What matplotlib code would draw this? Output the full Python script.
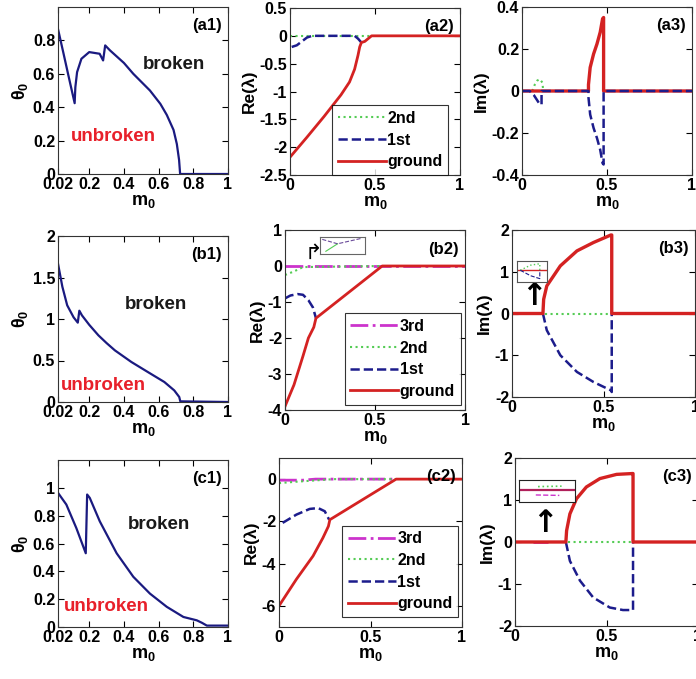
import matplotlib
matplotlib.use("Agg")
import matplotlib.pyplot as plt

plt.rcParams['font.family'] = ['Liberation Sans', 'DejaVu Sans']
plt.rcParams['font.weight'] = 'bold'
plt.rcParams['axes.labelweight'] = 'bold'
plt.rcParams['axes.unicode_minus'] = False
plt.rcParams['mathtext.fontset'] = 'custom'
plt.rcParams['mathtext.rm'] = 'Liberation Sans'
plt.rcParams['mathtext.it'] = 'Liberation Sans:italic'
plt.rcParams['mathtext.bf'] = 'Liberation Sans:bold'

RED = '#d42222'
NAVY = '#1c1c8c'
GREEN = '#55cc55'
MAG = '#cc33cc'
LINE1 = '#1a1a80'

# ---- column 1: theta_0 vs m_0 ----
a1_m = [0.02, 0.05, 0.08, 0.116, 0.12, 0.13, 0.155, 0.2, 0.26, 0.28, 0.292, 0.32, 0.4,
        0.454, 0.55, 0.61, 0.647, 0.686, 0.705, 0.718, 0.724, 1.0]
a1_t = [0.868, 0.73, 0.59, 0.424, 0.52, 0.61, 0.69, 0.73, 0.72, 0.68, 0.77, 0.74, 0.665,
        0.60, 0.50, 0.42, 0.354, 0.264, 0.18, 0.084, 0.0, 0.0]
b1_m = [0.02, 0.045, 0.073, 0.11, 0.134, 0.143, 0.158, 0.2, 0.253, 0.3, 0.348, 0.443,
        0.538, 0.633, 0.69, 0.719, 0.725, 1.0]
b1_t = [1.667, 1.39, 1.165, 1.02, 0.956, 1.10, 1.044, 0.93, 0.803, 0.71, 0.622, 0.482,
        0.361, 0.241, 0.14, 0.06, 0.008, 0.0]
c1_m = [0.02, 0.068, 0.126, 0.18, 0.188, 0.203, 0.261, 0.358, 0.454, 0.55, 0.647, 0.743,
        0.82, 0.85, 0.878, 1.0]
c1_t = [0.964, 0.88, 0.71, 0.53, 0.952, 0.928, 0.759, 0.53, 0.361, 0.24, 0.145, 0.072,
        0.048, 0.03, 0.01, 0.01]

# ---- column 2: Re(lambda) ----
a2_gm = [0, 0.1, 0.2, 0.3, 0.35, 0.38, 0.4, 0.41, 0.42, 0.44, 0.48, 1.0]
a2_g = [-2.18, -1.82, -1.45, -1.06, -0.83, -0.6, -0.35, -0.2, -0.12, -0.1, 0.0, 0.0]
a2_1m = [0.01, 0.04, 0.07, 0.1, 0.13, 0.38, 0.4, 0.42]
a2_1 = [-0.2, -0.17, -0.1, -0.03, 0.0, 0.0, -0.05, -0.12]
a2_2m = [0, 0.48]
a2_2 = [0, 0]

b2_gm = [0, 0.05, 0.1, 0.13, 0.16, 0.172, 0.54, 1.0]
b2_g = [-3.9, -3.3, -2.5, -2.0, -1.7, -1.45, 0.0, 0.0]
b2_1m = [0, 0.03, 0.07, 0.1, 0.13, 0.155, 0.172]
b2_1 = [-0.9, -0.82, -0.78, -0.8, -0.95, -1.15, -1.45]
b2_2m = [0, 0.05, 0.1, 0.54]
b2_2 = [-0.25, -0.15, -0.03, 0]
b2_3m = [0, 1.0]
b2_3 = [0, 0]

c2_gm = [0, 0.095, 0.186, 0.24, 0.27, 0.278, 0.64, 1.0]
c2_g = [-6.0, -4.74, -3.64, -2.78, -2.23, -1.92, 0, 0]
c2_1m = [0.02, 0.095, 0.168, 0.214, 0.25, 0.274]
c2_1 = [-2.07, -1.68, -1.41, -1.37, -1.52, -1.92]
c2_2m = [0, 0.1, 0.2, 0.3, 0.64]
c2_2 = [-0.19, -0.12, -0.06, 0, 0]
c2_3m = [0, 0.13, 0.2, 0.64]
c2_3 = [-0.05, -0.05, 0, 0]

# ---- column 3: Im(lambda) ----
a3_gm = [0, 0.391, 0.391, 0.401, 0.421, 0.441, 0.46, 0.474, 0.48, 0.48, 1.0]
a3_g = [0, 0, 0.03, 0.112, 0.176, 0.224, 0.28, 0.344, 0.35, 0, 0]
a3_1m = [0, 0.045, 0.07, 0.09, 0.105, 0.115, 0.115, 0.391, 0.391, 0.401, 0.421, 0.441,
         0.46, 0.474, 0.48, 0.48, 1.0]
a3_1 = [0, 0, -0.02, -0.045, -0.064, -0.064, 0, 0, -0.03, -0.112, -0.176, -0.224,
        -0.28, -0.344, -0.35, 0, 0]
a3_2m = [0.06, 0.075, 0.09, 0.105, 0.12, 0.125]
a3_2 = [0, 0.03, 0.05, 0.056, 0.04, 0]

b3_gm = [0, 0.169, 0.173, 0.19, 0.264, 0.355, 0.445, 0.54, 0.545, 0.545, 1.0]
b3_g = [0, 0, 0.34, 0.66, 1.14, 1.5, 1.7, 1.88, 1.88, 0, 0]
b3_1m = [0.169, 0.19, 0.264, 0.355, 0.445, 0.54, 0.545, 0.545]
b3_1 = [0, -0.4, -1.0, -1.4, -1.64, -1.84, -1.88, 0]
b3_2m = [0.18, 0.54]
b3_2 = [0, 0]

c3_gm = [0, 0.278, 0.282, 0.3, 0.336, 0.39, 0.464, 0.555, 0.642, 0.645, 0.645, 1.0]
c3_g = [0, 0, 0.27, 0.67, 1.03, 1.31, 1.51, 1.61, 1.63, 1.63, 0, 0]
c3_1m = [0.278, 0.3, 0.355, 0.427, 0.518, 0.59, 0.645, 0.645]
c3_1 = [0, -0.45, -0.92, -1.32, -1.56, -1.62, -1.62, 0]
c3_2m = [0.29, 0.64]
c3_2 = [0, 0]
c3_3m = [0.1, 0.18]
c3_3 = [0, 0]

# ---- small insets (normalised inset coordinates) ----
b2i_gx = [0.13, 0.39]
b2i_gy = [0.16, 0.6]
b2i_bx = [0.05, 0.39, 0.92]
b2i_by = [0.86, 0.6, 0.92]
b3i_gx = [0.11, 0.45, 0.76, 0.76]
b3i_gy = [0.56, 0.8, 0.87, 0.56]
b3i_bx = [0.11, 0.45, 0.76, 0.76]
b3i_by = [0.56, 0.3, 0.16, 0.56]
c3i_gx = [0.34, 0.76]
c3i_gy = [0.7, 0.72]
c3i_mx = [0.3, 0.72]
c3i_my = [0.32, 0.3]

W, H = 696, 679
fig = plt.figure(figsize=(W / 100, H / 100), dpi=100)


def box(x0, x1, y0, y1):
    return [x0 / W, 1 - y1 / H, (x1 - x0) / W, (y1 - y0) / H]


def style(ax, xticks, xlabels, yticks, ylim, ylabel, tag, xlim=(0, 1)):
    ax.set_xlim(*xlim)
    ax.set_ylim(*ylim)
    ax.set_xticks(xticks)
    ax.set_xticklabels(xlabels)
    ax.set_yticks(yticks)
    ax.set_yticklabels([f'{v:g}' for v in yticks])
    ax.tick_params(direction='in', top=True, right=True, length=4, width=0.8,
                   labelsize=11.5, pad=2)
    for s in ax.spines.values():
        s.set_color('#333333')
        s.set_linewidth(0.8)
    ax.set_xlabel(r'$\mathbf{m_0}$', fontsize=13, labelpad=1)
    ax.set_ylabel(ylabel, fontsize=12.5, labelpad=2, fontweight='bold')
    ax.text(0.965, 0.89, tag, transform=ax.transAxes, ha='right', va='center',
            fontsize=12, fontweight='bold')


col1_ticks = [0.02, 0.2, 0.4, 0.6, 0.8, 1]
col1_labels = ['0.02', '0.2', '0.4', '0.6', '0.8', '1']
half_ticks = [0, 0.5, 1]
half_labels = ['0', '0.5', '1']
theta_lab = r'$\mathrm{\theta_0}$'

# column 1
for rect, m, t, yt, yl, tag, bx, by, ux, uy in [
        (box(58, 228, 7, 174), a1_m, a1_t, [0, 0.2, 0.4, 0.6, 0.8], (0, 1.0), '(a1)',
         0.686, 0.654, 0.338, 0.224),
        (box(58, 228, 236, 402), b1_m, b1_t, [0, 0.5, 1, 1.5, 2], (0, 2), '(b1)',
         0.586, 1.17, 0.282, 0.2),
        (box(58, 228, 460, 627), c1_m, c1_t, [0, 0.2, 0.4, 0.6, 0.8, 1], (0, 1.2), '(c1)',
         0.604, 0.74, 0.296, 0.145)]:
    ax = fig.add_axes(rect)
    ax.plot(m, t, color=LINE1, lw=1.6)
    style(ax, col1_ticks, col1_labels, yt, yl, theta_lab, tag, xlim=(0.02, 1))
    ax.yaxis.label.set_fontsize(13)
    ax.text(bx, by, 'broken', ha='center', va='center', fontsize=13.5,
            fontweight='bold', color='#1a1a1a')
    ax.text(ux, uy, 'unbroken', ha='center', va='center', fontsize=13.5,
            fontweight='bold', color='#e8202a')

leg_kw = dict(fontsize=11.5, frameon=True, fancybox=False, edgecolor='black',
              handlelength=3.0, handletextpad=0.1, labelspacing=0.42,
              borderpad=0.35, borderaxespad=0)

# a2
ax = fig.add_axes(box(290, 460, 8, 175))
ax.plot(a2_2m, a2_2, ':', color=GREEN, lw=1.5, label='2nd')
ax.plot(a2_1m, a2_1, '--', color=NAVY, lw=1.8, label='1st')
ax.plot(a2_gm, a2_g, '-', color=RED, lw=2, label='ground')
style(ax, half_ticks, half_labels, [-2.5, -2, -1.5, -1, -0.5, 0, 0.5], (-2.5, 0.5),
      'Re(λ)', '(a2)')
leg = ax.legend(loc='lower right', bbox_to_anchor=(0.93, 0.0), **leg_kw)
leg.get_frame().set_linewidth(0.8)

# b2
ax = fig.add_axes(box(285, 465, 230, 410))
ax.plot(b2_3m, b2_3, '-.', color=MAG, lw=2, label='3rd')
ax.plot(b2_2m, b2_2, ':', color=GREEN, lw=1.5, label='2nd')
ax.plot(b2_1m, b2_1, '--', color=NAVY, lw=1.8, label='1st')
ax.plot(b2_gm, b2_g, '-', color=RED, lw=2, label='ground')
style(ax, half_ticks, half_labels, [-4, -3, -2, -1, 0, 1], (-4, 1), 'Re(λ)', '(b2)')
leg = ax.legend(loc='lower right', bbox_to_anchor=(0.975, 0.03), **leg_kw)
leg.get_frame().set_linewidth(0.8)
ax.text(0.16, 0.87, '↱', transform=ax.transAxes, ha='center', va='center',
        fontsize=15, family='DejaVu Sans', fontweight='normal')
ins = fig.add_axes(box(320, 365, 237, 254))
ins.plot(b2i_gx, b2i_gy, '-', color=GREEN, lw=0.8)
ins.plot(b2i_bx, b2i_by, '--', color='#6a4a9a', lw=0.8)
ins.set_xlim(0, 1)
ins.set_ylim(0, 1)
ins.set_xticks([])
ins.set_yticks([])
for s in ins.spines.values():
    s.set_color('#666666')
    s.set_linewidth(0.8)

# c2
ax = fig.add_axes(box(279, 462, 458, 627))
ax.plot(c2_3m, c2_3, '-.', color=MAG, lw=2, label='3rd')
ax.plot(c2_2m, c2_2, ':', color=GREEN, lw=1.5, label='2nd')
ax.plot(c2_1m, c2_1, '--', color=NAVY, lw=1.8, label='1st')
ax.plot(c2_gm, c2_g, '-', color=RED, lw=2, label='ground')
style(ax, half_ticks, half_labels, [-6, -4, -2, 0], (-7, 1), 'Re(λ)', '(c2)')
leg = ax.legend(loc='lower right', bbox_to_anchor=(0.98, 0.06), **leg_kw)
leg.get_frame().set_linewidth(0.8)

# a3
ax = fig.add_axes(box(522, 692, 7, 175))
ax.plot(a3_2m, a3_2, ':', color=GREEN, lw=1.5)
ax.plot(a3_gm, a3_g, '-', color=RED, lw=2.4)
ax.plot(a3_1m, a3_1, '--', color=NAVY, lw=1.8)
style(ax, half_ticks, half_labels, [-0.4, -0.2, 0, 0.2, 0.4], (-0.4, 0.4), 'Im(λ)', '(a3)')

# b3
ax = fig.add_axes(box(512, 695, 230, 397))
ax.plot(b3_2m, b3_2, ':', color=GREEN, lw=1.5)
ax.plot(b3_1m, b3_1, '--', color=NAVY, lw=1.8)
ax.plot(b3_gm, b3_g, '-', color=RED, lw=2.4)
style(ax, half_ticks, half_labels, [-2, -1, 0, 1, 2], (-2, 2), 'Im(λ)', '(b3)')
ax.text(0.12, 0.6, '↑', transform=ax.transAxes, ha='center', va='center',
        fontsize=22, family='DejaVu Sans', fontweight='bold')
ins = fig.add_axes(box(517, 547, 261, 282))
ins.plot([0, 1], [0.56, 0.56], '-', color=RED, lw=1)
ins.plot(b3i_gx, b3i_gy, ':', color=GREEN, lw=1)
ins.plot(b3i_bx, b3i_by, '--', color=NAVY, lw=0.8)
ins.set_xlim(0, 1)
ins.set_ylim(0, 1)
ins.set_xticks([])
ins.set_yticks([])
for s in ins.spines.values():
    s.set_color('#555555')
    s.set_linewidth(0.8)

# c3
ax = fig.add_axes(box(515, 698, 458, 626))
ax.plot(c3_2m, c3_2, ':', color=GREEN, lw=1.5)
ax.plot(c3_3m, c3_3, '-.', color=MAG, lw=2)
ax.plot(c3_1m, c3_1, '--', color=NAVY, lw=1.8)
ax.plot(c3_gm, c3_g, '-', color=RED, lw=2.4)
style(ax, half_ticks, half_labels, [-2, -1, 0, 1, 2], (-2, 2), 'Im(λ)', '(c3)')
ax.text(0.165, 0.61, '↑', transform=ax.transAxes, ha='center', va='center',
        fontsize=22, family='DejaVu Sans', fontweight='bold')
ins = fig.add_axes(box(519, 575, 480, 502))
ins.plot([0, 1], [0.54, 0.54], '-', color='#b0205a', lw=1.6)
ins.plot(c3i_gx, c3i_gy, ':', color=GREEN, lw=1.2)
ins.plot(c3i_mx, c3i_my, '--', color=MAG, lw=1)
ins.set_xlim(0, 1)
ins.set_ylim(0, 1)
ins.set_xticks([])
ins.set_yticks([])
for s in ins.spines.values():
    s.set_color('#222222')
    s.set_linewidth(0.8)

fig.savefig('out.png', dpi=100)
